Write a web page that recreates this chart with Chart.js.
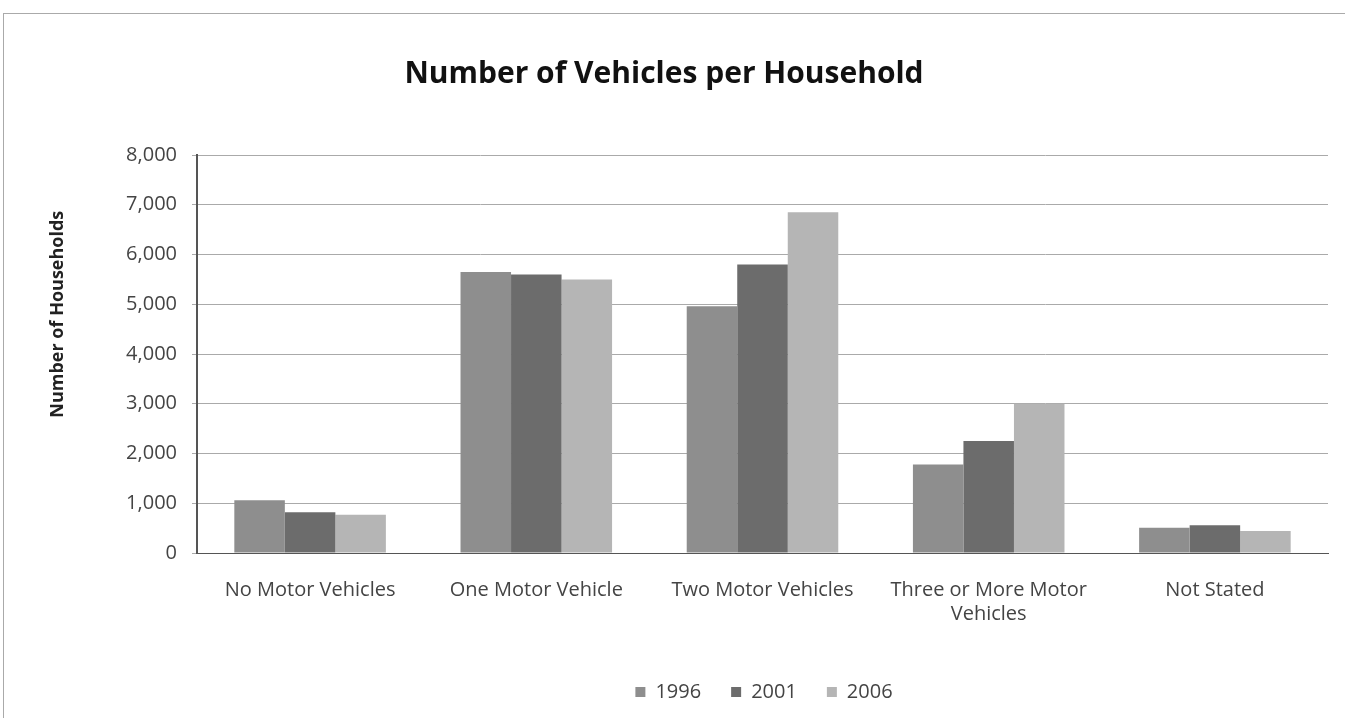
<!DOCTYPE html>
<html>
<head>
<meta charset="utf-8">
<script src="https://cdn.jsdelivr.net/npm/chart.js@4"></script>
<style>
  html, body { margin: 0; padding: 0; background: #fff; }
  #frame {
    position: absolute; left: 3px; top: 13px; width: 1342px; height: 705px;
    border-left: 1px solid #aaa; border-top: 1px solid #aaa;
  }
  #vehiclesChart { position: absolute; left: 0; top: 0; }
</style>
</head>
<body>
<div id="frame"></div>
<canvas id="vehiclesChart" width="1345" height="718"></canvas>
<script>
const categories = [
    'No Motor Vehicles',
    'One Motor Vehicle',
    'Two Motor Vehicles',
    ['Three or More Motor', 'Vehicles'],
    'Not Stated',
];
const years = ['1996', '2001', '2006'];
const values1996 = [1060, 5650, 4960, 1780, 510];
const values2001 = [820, 5600, 5800, 2250, 560];
const values2006 = [770, 5500, 6850, 3000, 440];
const yTicks = [0, 1000, 2000, 3000, 4000, 5000, 6000, 7000, 8000];
const yTitle = 'Number of Households';

const labelFont = "'Open Sans', 'DejaVu Sans', sans-serif";

// y title sits a bit above the middle of the axis, so it is drawn by hand
const yTitlePlugin = {
    id: 'yTitle',
    afterDraw(chart) {
        const {ctx, chartArea} = chart;
        const cy = chartArea.top + (chartArea.bottom - chartArea.top) * 0.4;
        ctx.save();
        ctx.translate(58, cy);
        ctx.rotate(-Math.PI / 2);
        ctx.font = 'bold 18px ' + labelFont;
        ctx.fillStyle = '#222';
        ctx.textAlign = 'center';
        ctx.textBaseline = 'middle';
        ctx.fillText(yTitle, 0, 0);
        ctx.restore();
    }
};

// nudge the legend under the plot instead of the canvas centre
const legendShift = {
    id: 'legendShift',
    afterLayout(chart) {
        const lg = chart.legend;
        lg.left += 100; lg.right += 100;
        lg.top -= 6; lg.bottom -= 6;
    }
};

const vehiclesChart = new Chart(
    document.getElementById('vehiclesChart'),
    {
        type: 'bar',
        data: {
            labels: categories,
            datasets: [
                {
                    label: years[0],
                    backgroundColor: '#8e8e8e',
                    data: values1996,
                },
                {
                    label: years[1],
                    backgroundColor: '#6c6c6c',
                    data: values2001,
                },
                {
                    label: years[2],
                    backgroundColor: '#b5b5b5',
                    data: values2006,
                },
            ]
        },
        plugins: [yTitlePlugin, legendShift],
        options: {
            responsive: false,
            animation: false,
            layout: {
                padding: { left: 0, right: 17, top: 0, bottom: 0 }
            },
            datasets: {
                bar: {
                    barPercentage: 1,
                    categoryPercentage: 0.67,
                }
            },
            plugins: {
                legend: {
                    display: true,
                    position: 'bottom',
                    labels: {
                        color: '#444',
                        boxWidth: 10,
                        boxHeight: 10,
                        padding: 30,
                        font: { family: labelFont, size: 20 }
                    }
                },
                title: {
                    display: true,
                    text: 'Number of Vehicles per Household',
                    color: '#111',
                    font: { family: labelFont, size: 30, weight: 'bold' },
                    padding: { top: 56, bottom: 63 }
                },
                tooltip: { enabled: false }
            },
            scales: {
                x: {
                    grid: { display: false, drawTicks: false },
                    border: { color: '#555', width: 1 },
                    afterFit: (axis) => { axis.height = 105; },
                    ticks: {
                        color: '#444',
                        padding: 25,
                        maxRotation: 0,
                        font: { family: labelFont, size: 20 }
                    }
                },
                y: {
                    min: 0,
                    max: 8000,
                    afterBuildTicks: (axis) => {
                        axis.ticks = yTicks.map(v => ({ value: v }));
                    },
                    afterFit: (axis) => { axis.width = 197; },
                    grid: { color: '#aaa', tickLength: 5 },
                    border: { color: '#555', width: 2 },
                    ticks: {
                        color: '#444',
                        padding: 15,
                        font: { family: labelFont, size: 20 },
                        callback: (v) => v.toLocaleString('en-US')
                    }
                }
            }
        }
    }
);
</script>
</body>
</html>
